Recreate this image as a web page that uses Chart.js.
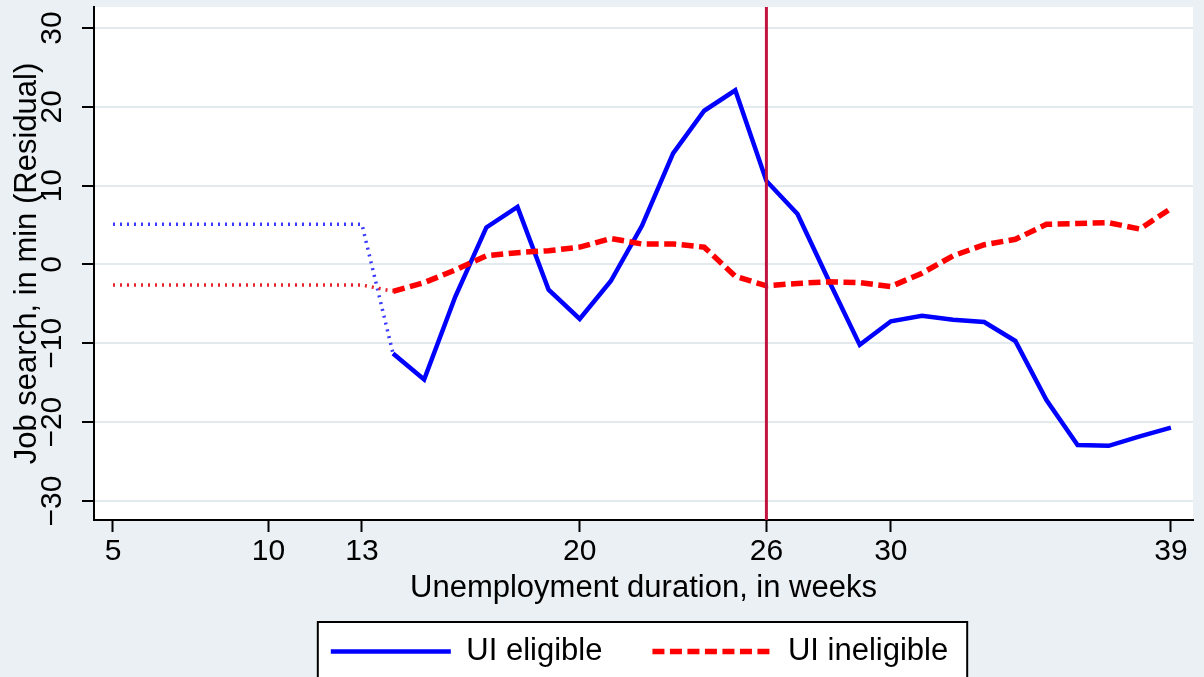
<!DOCTYPE html>
<html><head><meta charset="utf-8">
<script src="https://cdn.jsdelivr.net/npm/chart.js@4.4.1/dist/chart.umd.min.js"></script>
<style>html,body{margin:0;padding:0;background:#eaf0f3;overflow:hidden}canvas{display:block}</style>
</head><body>
<canvas id="c" width="1204" height="677"></canvas>
<script>
// ---- data ----
const weeks = [14,15,16,17,18,19,20,21,22,23,24,25,26,27,28,29,30,31,32,33,34,35,36,37,38,39];
const eligible = [-11.3,-14.6,-4.1,4.7,7.3,-3.2,-6.9,-2.1,4.9,14.1,19.5,22.1,10.6,6.4,-2.0,-10.2,-7.2,-6.5,-7.0,-7.3,-9.7,-17.2,-22.9,-23.0,-21.8,-20.7];
const ineligible = [-3.4,-2.3,-0.7,1.1,1.5,1.75,2.2,3.3,2.6,2.6,2.2,-1.5,-2.7,-2.4,-2.2,-2.3,-2.8,-1.1,1.1,2.5,3.2,5.1,5.2,5.3,4.5,7.1];
const preWeeks = [5, 13];
const preEligible = [5.1, 5.1];
const preIneligible = [-2.6, -2.6];
const cutoffWeek = 26;
const xTickValues = [5,10,13,20,26,30,39];
const yTickValues = [-30,-20,-10,0,10,20,30];
const seriesLabels = ['UI eligible', 'UI ineligible'];
const xTitle = 'Unemployment duration, in weeks';
const yTitle = 'Job search, in min (Residual)';

// ---- style ----
const FONT = '"Liberation Sans", Arial, Helvetica, sans-serif';
const BG = '#eaf0f3';
const LEG_PAD = 50;
const LEG_SHIFT = 43;
const toPts = (xs, ys) => xs.map((x, i) => ({x: x, y: ys[i]}));

const framePlugin = {
  id: 'frame',
  afterLayout(chart) {
    const lg = chart.legend;
    lg.left += LEG_SHIFT; lg.right += LEG_SHIFT;
  },
  beforeDraw(chart) {
    const {ctx, chartArea: a, legend: lg} = chart;
    ctx.save();
    ctx.fillStyle = BG; ctx.fillRect(0, 0, chart.width, chart.height);
    ctx.fillStyle = '#ffffff'; ctx.fillRect(a.left, a.top, a.right - a.left, a.bottom - a.top);
    const lw = lg.lineWidths[0];
    const startX = (lg.left + LEG_PAD + lg.right - lw) / 2;
    const endX = startX + lw - LEG_PAD;
    const topY = lg.top + LEG_PAD;
    const x0 = startX - 13, x1 = endX + 19, y0 = topY - 14;
    ctx.fillRect(x0, y0, x1 - x0, chart.height - y0 + 20);
    ctx.strokeStyle = '#000'; ctx.lineWidth = 2;
    ctx.strokeRect(x0, y0, x1 - x0, chart.height - y0 + 20);
    ctx.restore();
  },
  afterDatasetsDraw(chart) {
    const {ctx, chartArea: a} = chart;
    const x = chart.scales.x.getPixelForValue(cutoffWeek);
    ctx.save();
    ctx.strokeStyle = '#c0143e'; ctx.lineWidth = 3;
    ctx.beginPath(); ctx.moveTo(x, a.top); ctx.lineTo(x, a.bottom); ctx.stroke();
    ctx.restore();
  }
};

const fmtY = v => v < 0 ? '\u2212' + Math.abs(v) : String(v);

new Chart(document.getElementById('c'), {
  type: 'line',
  data: {
    datasets: [
      {label: seriesLabels[0], data: toPts(weeks, eligible), borderColor: '#0000ff', borderWidth: 4.5, order: 1},
      {label: seriesLabels[1], data: toPts(weeks, ineligible), borderColor: '#ff0000', borderWidth: 5.5, borderDash: [12, 5.5], order: 0},
      {label: '', data: toPts(preWeeks.concat([weeks[0]]), preEligible.concat([eligible[0]])), borderColor: '#3a3aff', borderWidth: 3.5, borderDash: [2, 5], order: 1},
      {label: '', data: toPts(preWeeks.concat([weeks[0]]), preIneligible.concat([ineligible[0]])), borderColor: '#e8222a', borderWidth: 3.5, borderDash: [2, 5], order: 0}
    ]
  },
  options: {
    responsive: false,
    animation: false,
    devicePixelRatio: 1,
    events: [],
    layout: {padding: {left: 0, right: 11, top: 7, bottom: 0}},
    elements: {point: {radius: 0}, line: {tension: 0, fill: false, borderCapStyle: 'butt', borderJoinStyle: 'miter'}},
    plugins: {
      tooltip: {enabled: false},
      legend: {
        position: 'bottom',
        onClick: null,
        labels: {
          font: {size: 31, family: FONT},
          color: '#000',
          padding: LEG_PAD,
          usePointStyle: true,
          pointStyleWidth: 120,
          generateLabels(chart) {
            return chart.data.datasets.map((d, i) => ({d, i})).filter(o => o.d.label).map(({d, i}) => ({
              text: d.label, strokeStyle: d.borderColor, fillStyle: d.borderColor,
              lineWidth: d.borderWidth, lineDash: d.borderDash || [], pointStyle: 'line',
              datasetIndex: i, hidden: false, fontColor: '#000'
            }));
          }
        }
      }
    },
    scales: {
      x: {
        type: 'linear', min: 4.39, max: 39.71,
        afterBuildTicks: s => { s.ticks = xTickValues.map(v => ({value: v})); },
        afterFit: s => { s.height = 66; s.paddingLeft = 0; s.paddingRight = 0; },
        grid: {drawOnChartArea: false, drawTicks: true, tickLength: 12, tickColor: '#000', tickWidth: 2},
        border: {display: true, color: '#000', width: 2},
        ticks: {font: {size: 30, family: FONT}, color: '#000', padding: 2, maxRotation: 0, autoSkip: false, callback: v => String(v)},
        title: {display: true, text: xTitle, color: '#000', font: {size: 31, family: FONT, lineHeight: 1.2}, padding: {top: 0, bottom: -20.6}}
      },
      y: {
        type: 'linear', min: -32.41, max: 32.66,
        afterBuildTicks: s => { s.ticks = yTickValues.map(v => ({value: v})); },
        afterFit: s => { s.width = 94; s.paddingTop = 0; s.paddingBottom = 0; },
        grid: {color: '#e3eaed', lineWidth: 2, drawTicks: true, tickLength: 12, tickColor: '#000', tickWidth: 2},
        border: {display: true, color: '#000', width: 2},
        ticks: {font: {size: 30, family: FONT}, color: '#000', padding: 3.5, minRotation: 90, maxRotation: 90, crossAlign: 'center', autoSkip: false, callback: v => fmtY(v)},
        title: {display: true, text: yTitle, color: '#000', font: {size: 31, family: FONT, lineHeight: 1.2}, padding: {top: 9, bottom: 0}}
      }
    }
  },
  plugins: [framePlugin]
});
</script>
</body></html>
